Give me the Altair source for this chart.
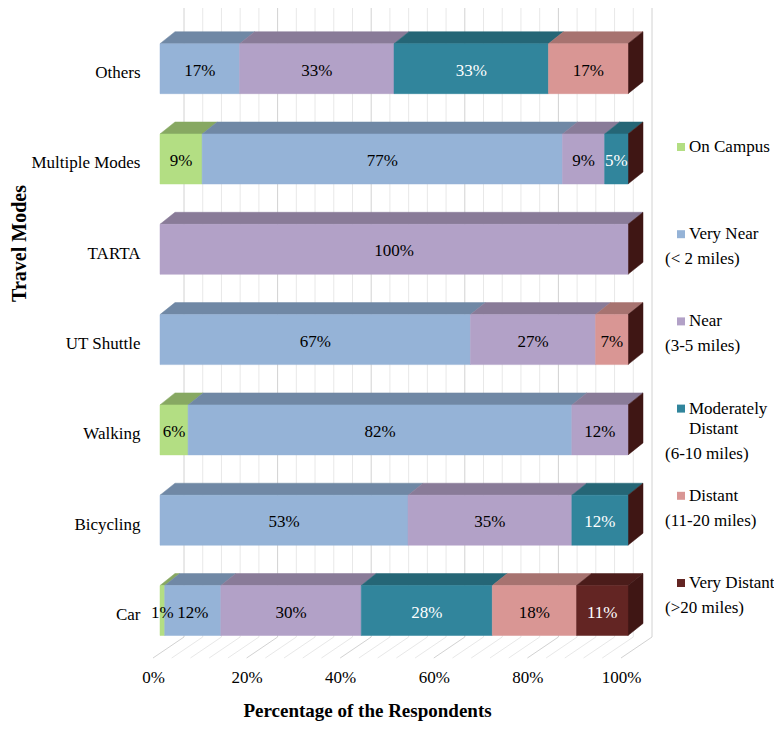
import json
import altair as alt
import pandas as pd

# ---------------- data ----------------
modes = ["Others", "Multiple Modes", "TARTA", "UT Shuttle", "Walking", "Bicycling", "Car"]
categories = ["On Campus", "Very Near", "Near", "Moderately Distant", "Distant", "Very Distant"]
sub_labels = ["", "(< 2 miles)", "(3-5 miles)", "(6-10 miles)", "(11-20 miles)", "(>20 miles)"]

on_campus = [0, 9, 0, 0, 6, 0, 1]
very_near = [17, 77, 0, 67, 82, 53, 12]
near = [33, 9, 100, 27, 12, 35, 30]
moderately_distant = [33, 5, 0, 0, 0, 12, 28]
distant = [17, 0, 0, 7, 0, 0, 18]
very_distant = [0, 0, 0, 0, 0, 0, 11]

tick_values = [0, 20, 40, 60, 80, 100]
grid_values = list(range(0, 101, 4))

series = [on_campus, very_near, near, moderately_distant, distant, very_distant]

# ---------------- styles ----------------
front_colors = ["#B3DE83", "#95B3D7", "#B2A1C7", "#31859C", "#D99694", "#632523"]
top_colors = ["#87A862", "#7088A5", "#897B98", "#256676", "#A77370", "#4B1C1A"]
side_color = "#3F1614"
text_colors = ["black", "black", "black", "white", "black", "white"]
FONT = "Liberation Serif"

W, HPX = 468, 652
ROW = 90.3                       # pixels per category row
Y_DOMAIN = [-0.548, 6.672]
HALF = 25 / ROW                  # half height of the front face
DEPTH_Y = 12 / ROW               # 3-D depth (vertical)
DEPTH_X = 15 / (W / 100)         # 3-D depth (horizontal)
FLOOR_FRONT = -0.526
FLOOR_BACK = -0.2935
WALL_TOP = Y_DOMAIN[1]

# ---------------- tables ----------------
n = len(modes)
seg_rows, top_rows, side_rows = [], [], []
for i, m in enumerate(modes):
    r = n - 1 - i
    total = sum(s[i] for s in series)
    cum = 0
    for k, c in enumerate(categories):
        v = series[k][i]
        if v <= 0:
            continue
        s0 = cum / total * 100
        s1 = (cum + v) / total * 100
        cum += v
        key = f"{m}|{c}"
        seg_rows.append(dict(key=key, mode=m, cat=c, r=r, x0=s0, x1=s1, mid=(s0 + s1) / 2,
                             y0=r - HALF, y1=r + HALF, label=f"{v}%",
                             fill=front_colors[k], tcol=text_colors[k]))
        top_rows.append(dict(key=key, y=r + HALF, xa=s0, xb=s1, fill=top_colors[k]))
        top_rows.append(dict(key=key, y=r + HALF + DEPTH_Y, xa=s0 + DEPTH_X, xb=s1 + DEPTH_X,
                             fill=top_colors[k]))
    side_rows.append(dict(key=m, x=100, ya=r - HALF, yb=r + HALF))
    side_rows.append(dict(key=m, x=100 + DEPTH_X, ya=r - HALF + DEPTH_Y, yb=r + HALF + DEPTH_Y))

segs = pd.DataFrame(seg_rows)
tops = pd.DataFrame(top_rows)
sides = pd.DataFrame(side_rows)
grid = pd.DataFrame({"v": grid_values, "major": [v % 20 == 0 for v in grid_values]})
grid["gcol"] = grid["major"].map({True: "#D2D2D2", False: "#E8E8E8"})

leg_rows = []
for k, c in enumerate(categories):
    if c == "Moderately Distant":
        n1, n2 = c.split(" ", 1)
    else:
        n1, n2 = c, ""
    leg_rows.append(dict(slot=k, name1=n1, name2=n2, sub=sub_labels[k], color=front_colors[k]))
legend_df = pd.DataFrame(leg_rows)

# ---------------- scales / axes ----------------
xscale = alt.Scale(domain=[0, 100], nice=False, zero=False)
yscale = alt.Scale(domain=Y_DOMAIN, nice=False, zero=False)
names_by_r = list(reversed(modes))

xaxis = alt.Axis(values=tick_values, labelExpr="datum.value + '%'",
                 title="Percentage of the Respondents", grid=False, ticks=False, domain=False,
                 labelPadding=9, labelOffset=-7, labelFlush=False, labelFontSize=17, labelFont=FONT,
                 labelColor="black", titleFont=FONT, titleFontSize=19, titleFontWeight="bold",
                 titleColor="black", titleX=207, titleY=41, titleBaseline="top")
yaxis = alt.Axis(values=list(range(n)), labelExpr=json.dumps(names_by_r) + "[datum.value]",
                 title="Travel Modes", grid=False, ticks=False, domain=False, labelPadding=20,
                 labelOffset=4, labelFontSize=17, labelFont=FONT, labelColor="black",
                 titleFont=FONT, titleFontSize=20, titleFontWeight="bold", titleColor="black",
                 titleX=-131, titleY=235)

# ---------------- layers ----------------
wall = alt.Chart(grid).mark_rule(xOffset=24, strokeWidth=1).encode(
    x=alt.X("v:Q", scale=xscale, axis=xaxis),
    y=alt.datum(WALL_TOP),
    y2=alt.datum(FLOOR_BACK),
    color=alt.Color("gcol:N", scale=None),
)
floor = alt.Chart(grid).mark_rule(xOffset=-7, x2Offset=24, strokeWidth=1).encode(
    x=alt.X("v:Q", scale=xscale, axis=xaxis),
    x2="v:Q",
    y=alt.datum(FLOOR_FRONT),
    y2=alt.datum(FLOOR_BACK),
    color=alt.Color("gcol:N", scale=None),
)
top_faces = alt.Chart(tops).mark_area(orient="horizontal", strokeWidth=0.5).encode(
    y=alt.Y("y:Q", scale=yscale, axis=yaxis),
    x=alt.X("xa:Q", scale=xscale, axis=xaxis),
    x2="xb:Q",
    detail="key:N",
    color=alt.Color("fill:N", scale=None),
    stroke=alt.Stroke("fill:N", scale=None),
)
side_faces = alt.Chart(sides).mark_area(orient="vertical", color=side_color,
                                        stroke=side_color, strokeWidth=0.5).encode(
    x=alt.X("x:Q", scale=xscale, axis=xaxis),
    y=alt.Y("ya:Q", scale=yscale, axis=yaxis),
    y2="yb:Q",
    detail="key:N",
)
fronts = alt.Chart(segs).mark_rect(strokeWidth=0.5).encode(
    x=alt.X("x0:Q", scale=xscale, axis=xaxis),
    x2="x1:Q",
    y=alt.Y("y0:Q", scale=yscale, axis=yaxis),
    y2="y1:Q",
    color=alt.Color("fill:N", scale=None),
    stroke=alt.Stroke("fill:N", scale=None),
)
labels = alt.Chart(segs).mark_text(font=FONT, fontSize=17, baseline="middle", dy=2).encode(
    x=alt.X("mid:Q", scale=xscale, axis=xaxis),
    y=alt.Y("r:Q", scale=yscale, axis=yaxis),
    text="label:N",
    color=alt.Color("tcol:N", scale=None),
)

main = alt.layer(wall, floor, top_faces, side_faces, fronts, labels)

slot_scale = alt.Scale(domain=[0, len(categories) - 1], range=[139, 575], nice=False, zero=False)
leg_base = alt.Chart(legend_df).encode(y=alt.Y("slot:Q", scale=slot_scale, axis=None))
leg_sq = leg_base.mark_square(size=64, opacity=1).encode(
    x=alt.value(521), color=alt.Color("color:N", scale=None))
leg_n1 = leg_base.mark_text(align="left", baseline="middle", font=FONT, fontSize=17,
                            color="black").encode(x=alt.value(529), text="name1:N")
leg_n2 = leg_base.mark_text(align="left", baseline="middle", font=FONT, fontSize=17,
                            color="black", dy=20).encode(x=alt.value(529), text="name2:N")
leg_sub = alt.Chart(legend_df).transform_calculate(
    ys="datum.slot + (datum.name2 != '' ? 20 / 87.2 : 0)"
).mark_text(align="left", baseline="middle", font=FONT, fontSize=17, color="black", dy=25).encode(
    x=alt.value(505), y=alt.Y("ys:Q", scale=slot_scale, axis=None), text="sub:N")

legend = alt.layer(leg_sq, leg_n1, leg_n2, leg_sub)

chart = alt.layer(main, legend).resolve_scale(y="independent").properties(
    width=W, height=HPX,
    autosize=alt.AutoSizeParams(type="none"),
    padding={"left": 152, "top": 0, "right": 146, "bottom": 62},
    background="white",
).configure_view(stroke=None)

chart.save("out.html", embed_options={"renderer": "svg", "actions": False})
